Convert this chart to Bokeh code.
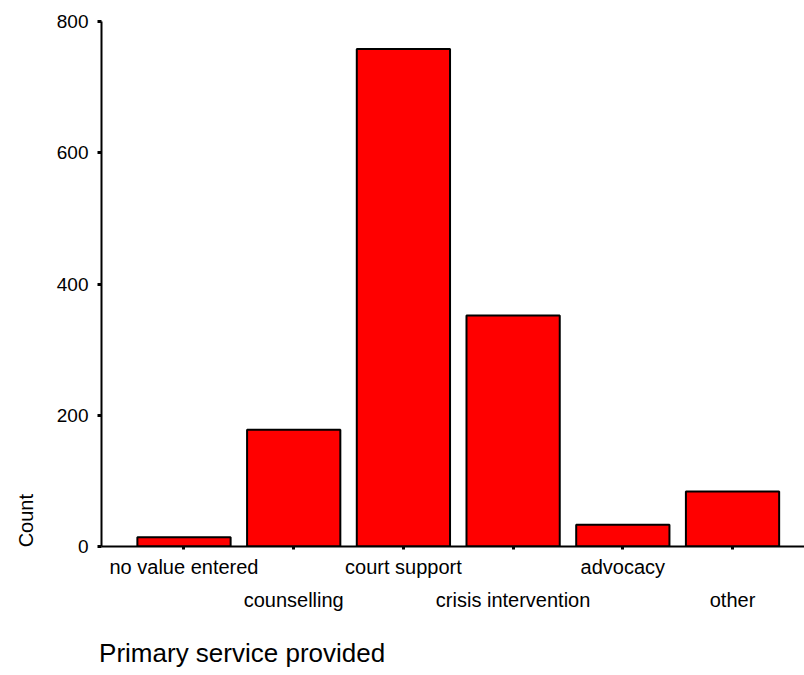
import math
from bokeh.plotting import figure
from bokeh.models import Range1d, FixedTicker, LinearAxis, ColumnDataSource
from bokeh.embed import file_html
from bokeh.resources import INLINE

categories = ["no value entered", "counselling", "court support",
              "crisis intervention", "advocacy", "other"]
counts = [14, 178, 758, 352, 33, 84]
y_ticks = [0, 200, 400, 600, 800]
x_title = "Primary service provided"
y_title = "Count"

FONT = "Liberation Sans"
xs = list(range(len(categories)))
src = ColumnDataSource(dict(x=xs, count=counts, name=categories))

p = figure(width=804, height=675, output_backend="svg", toolbar_location=None,
           x_range=Range1d(-0.752, 5.656), y_range=Range1d(0, 800),
           x_axis_type=None,
           min_border_left=100, min_border_right=0, min_border_top=21,
           min_border_bottom=129)
p.grid.visible = False
p.outline_line_color = None
p.background_fill_color = "white"

p.vbar(x="x", top="count", width=0.85, bottom=0, source=src,
       fill_color="#ff0000", line_color="black", line_width=2)


def plain(ax, size, standoff):
    ax.axis_line_color = None
    ax.major_tick_line_color = None
    ax.minor_tick_line_color = None
    ax.major_label_standoff = standoff
    ax.major_label_text_font = FONT
    ax.major_label_text_font_size = size
    ax.major_label_text_color = "black"


ya = p.yaxis[0]
ya.ticker = FixedTicker(ticks=y_ticks)
ya.axis_line_width = 2
ya.axis_line_color = "black"
ya.major_tick_in = 0
ya.major_tick_out = 4
ya.major_tick_line_width = 3
ya.minor_tick_line_color = None
ya.major_label_standoff = 9
ya.major_label_text_font = FONT
ya.major_label_text_font_size = "19px"
ya.major_label_text_color = "black"

# y title as an outer left axis carrying a single rotated label
y_title_pos = 80
ay = LinearAxis(ticker=FixedTicker(ticks=[y_title_pos]),
                major_label_overrides={y_title_pos: y_title},
                major_label_orientation=math.pi / 2)
plain(ay, "20px", 22)
p.add_layout(ay, "left")

ax1 = LinearAxis(ticker=FixedTicker(ticks=xs),
                 major_label_overrides={i: (categories[i] if i % 2 == 0 else "") for i in xs})
ax1.axis_line_width = 2
ax1.axis_line_color = "black"
ax1.major_tick_in = 0
ax1.major_tick_out = 3
ax1.major_tick_line_width = 3
ax1.minor_tick_line_color = None
ax1.major_label_standoff = 6
ax1.major_label_text_font = FONT
ax1.major_label_text_font_size = "20px"
ax1.major_label_text_color = "black"
p.add_layout(ax1, "below")

odd = [i for i in xs if i % 2 == 1]
ax2 = LinearAxis(ticker=FixedTicker(ticks=odd),
                 major_label_overrides={i: categories[i] for i in odd})
plain(ax2, "20px", 2)
p.add_layout(ax2, "below")

# x title as an outer bottom axis carrying a single label
x_title_pos = 0.53
ax3 = LinearAxis(ticker=FixedTicker(ticks=[x_title_pos]),
                 major_label_overrides={x_title_pos: x_title})
plain(ax3, "26px", 18)
p.add_layout(ax3, "below")

open("out.html", "w").write(file_html(p, INLINE))
